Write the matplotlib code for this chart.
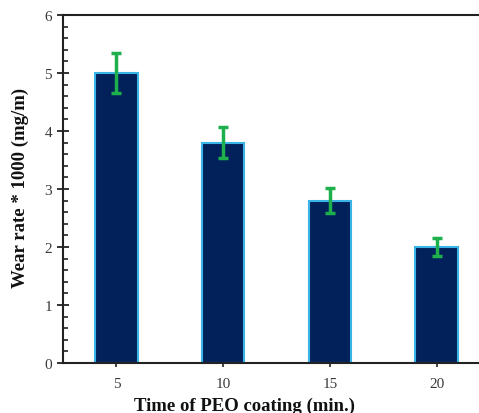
import numpy as np
import matplotlib
matplotlib.use("Agg")
import matplotlib.pyplot as plt
from matplotlib.ticker import AutoMinorLocator

# data
times = [5, 10, 15, 20]
wear = [5.0, 3.8, 2.8, 2.0]
err = [0.35, 0.27, 0.21, 0.15]

plt.rcParams['font.family'] = ['Liberation Serif', 'DejaVu Serif']

fig = plt.figure(figsize=(4.79, 4.14), dpi=100)
W, H = 479., 414.
# axes reaches past the right border of the image (right spine cut off)
x0, x1 = 63., 490.
y0, y1 = 364., 16.
ax = fig.add_axes([x0/W, (H-y0)/H, (x1-x0)/W, (y0-y1)/H])

ax.bar(times, wear, width=2.0, color='#02215a', edgecolor='#3ab4e6', linewidth=1.5, zorder=2)
ax.errorbar(times, wear, yerr=err, fmt='none', ecolor='#1db04c',
            elinewidth=2.5, capsize=3.5, capthick=2.5, zorder=3)

ax.set_xlim(2.5, 22.5)
ax.set_ylim(0, 6)
ax.set_xticks(times)
ax.set_yticks(range(0, 7))
ax.yaxis.set_minor_locator(AutoMinorLocator(5))

ax.spines['right'].set_visible(False)
for s in ['left', 'bottom', 'top']:
    ax.spines[s].set_linewidth(1.5)
    ax.spines[s].set_color('#222222')

ax.tick_params(axis='y', which='major', direction='inout', length=8, width=1.3,
               labelsize=11, colors='#222222', labelcolor='#3a3a3a', pad=4)
ax.tick_params(axis='y', which='minor', direction='in', length=3.5, width=1.2, colors='#222222')
ax.tick_params(axis='x', which='major', direction='out', length=3, width=1.2,
               labelsize=11, colors='#222222', labelcolor='#3a3a3a', pad=7)

fig.text(20/W, 1 - 188/H, 'Wear rate * 1000 (mg/m)', rotation=90, fontsize=13.5,
         fontweight='bold', ha='center', va='center', color='#111111')
fig.text(245/W, 1 - 406/H, 'Time of PEO coating (min.)', fontsize=13.5,
         fontweight='bold', ha='center', va='center', color='#111111')

fig.savefig('out.png', dpi=100)
